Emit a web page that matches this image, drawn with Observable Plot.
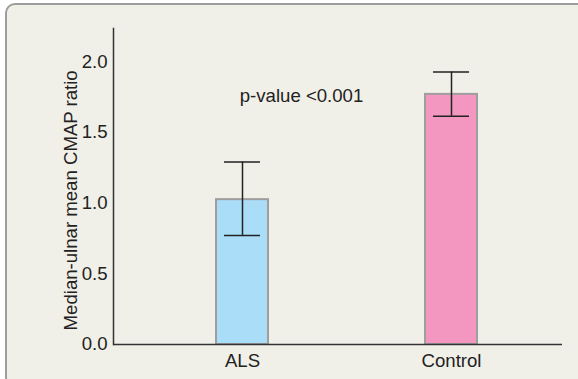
<!DOCTYPE html>
<html>
<head>
<meta charset="utf-8">
<script src="https://cdn.jsdelivr.net/npm/d3@7"></script>
<script src="https://cdn.jsdelivr.net/npm/@observablehq/plot@0.6"></script>
<style>
  html, body { margin: 0; padding: 0; background: #ffffff; overflow: hidden; }
  #wrap { position: relative; width: 578px; height: 379px; overflow: hidden; }
  #box {
    position: absolute; left: 5px; top: 3px; width: 640px; height: 380px;
    background: #f1f0e8; border: 2px solid #9d9d9d; border-radius: 10px;
  }
  #chart { position: absolute; left: 0; top: 0; }
</style>
</head>
<body>
<div id="wrap"><div id="box"></div><div id="chart"></div></div>
<script>
const groups = ["ALS", "Control"];
const values = [1.025, 1.77];
const upper = [1.291, 1.928];
const lower = [0.772, 1.615];
const colors = ["#aadef8", "#f397c0"];
const yTicks = [0, 0.5, 1.0, 1.5, 2.0];
const yLabel = "Median-ulnar mean CMAP ratio";
const annotation = "p-value <0.001";

const data = groups.map((g, i) => ({group: g, value: values[i], hi: upper[i], lo: lower[i], color: colors[i]}));
const font = "'Liberation Sans', Arial, sans-serif";
const fs = 18.6;

const chart = Plot.plot({
  width: 578,
  height: 379,
  marginLeft: 113,
  marginRight: 16,
  marginTop: 28,
  marginBottom: 35,
  style: {background: "transparent", fontFamily: font, fontSize: fs + "px", color: "#222"},
  x: {domain: groups, paddingInner: 0.749, paddingOuter: 0.446, align: 0.55, label: null},
  y: {domain: [0, 2.236], label: null},
  marks: [
    Plot.barY(data, {x: "group", y: "value", fill: "color", stroke: "#9e9e9e", strokeWidth: 2}),
    Plot.ruleX(data, {x: "group", y1: "lo", y2: "hi", stroke: "#222", strokeWidth: 1.5}),
    Plot.tickY(data, {x: "group", y: "hi", stroke: "#222", strokeWidth: 1.5, inset: 8}),
    Plot.tickY(data, {x: "group", y: "lo", stroke: "#222", strokeWidth: 1.5, inset: 8}),
    Plot.ruleY([0], {stroke: "#333", strokeWidth: 1.5}),
    Plot.frame({anchor: "left", stroke: "#333", strokeWidth: 1.5}),
    Plot.axisY({ticks: yTicks, tickFormat: d3.format(".1f"), tickSize: 0, tickPadding: 6, label: null, fill: "#222", fontSize: fs}),
    Plot.axisX({tickSize: 0, tickPadding: 9, label: null, fill: "#222", fontSize: fs}),
    Plot.text([annotation], {x: () => "ALS", y: () => 1.757, text: d => d, dx: 59, fontSize: fs, fill: "#222"}),
    Plot.text([yLabel], {frameAnchor: "left", y: () => 1.02, text: d => d, rotate: -90, textAnchor: "middle", dx: -42, fontSize: fs, fill: "#222"})
  ]
});
document.getElementById("chart").appendChild(chart);
</script>
</body>
</html>
